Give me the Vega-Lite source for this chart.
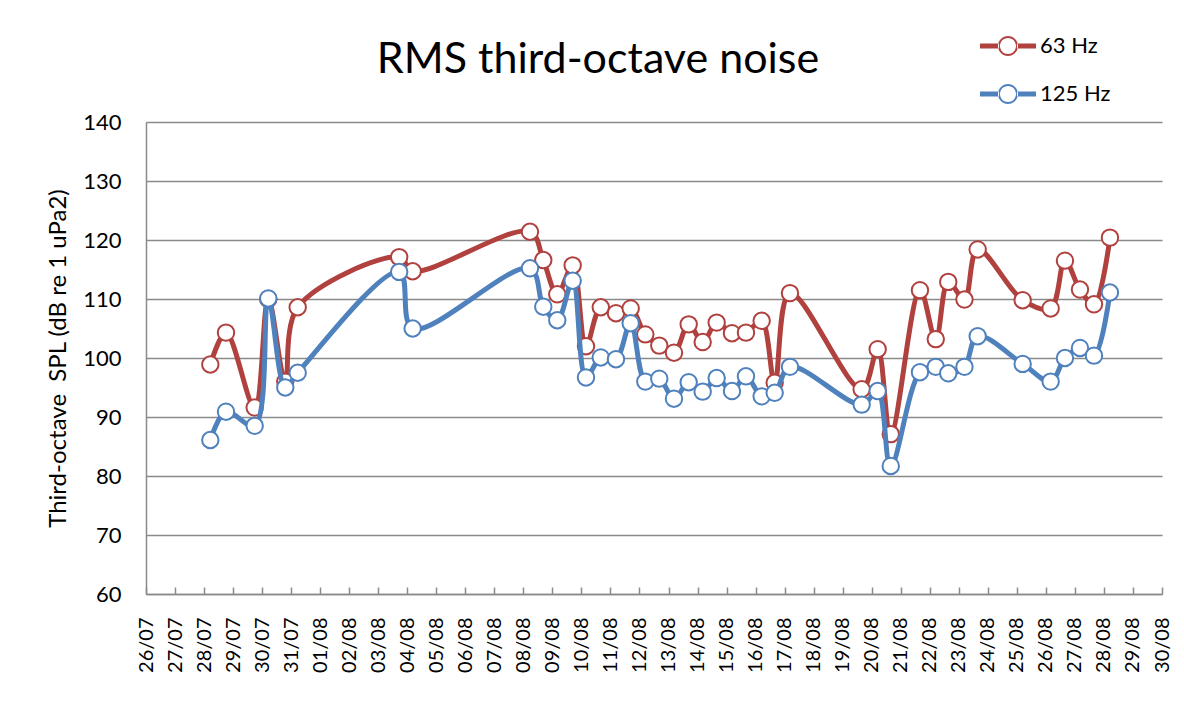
{
  "$schema": "https://vega.github.io/schema/vega-lite/v6.json",
  "autosize": {"type": "none"},
  "width": 1016,
  "height": 472,
  "padding": {"left": 146, "top": 122, "right": 22, "bottom": 108},
  "background": "white",
  "config": {
    "view": {"stroke": null},
    "font": "Lato"
  },
  "title": {
    "text": "RMS third-octave noise",
    "fontSize": 43,
    "fontWeight": "normal",
    "font": "Lato",
    "color": "black",
    "anchor": "middle",
    "frame": "group",
    "baseline": "alphabetic",
    "offset": -98,
    "dx": -56
  },
  "data": {
    "values": [
      {"t": "2013-07-28T05:10:00", "series": "63 Hz", "spl": 98.9},
      {"t": "2013-07-28T18:08:00", "series": "63 Hz", "spl": 104.3},
      {"t": "2013-07-29T17:51:00", "series": "63 Hz", "spl": 91.6},
      {"t": "2013-07-30T05:07:00", "series": "63 Hz", "spl": 110.0},
      {"t": "2013-07-30T19:09:00", "series": "63 Hz", "spl": 96.0},
      {"t": "2013-07-31T05:25:00", "series": "63 Hz", "spl": 108.6},
      {"t": "2013-08-03T17:20:00", "series": "63 Hz", "spl": 117.1},
      {"t": "2013-08-04T04:29:00", "series": "63 Hz", "spl": 114.7},
      {"t": "2013-08-08T05:28:00", "series": "63 Hz", "spl": 121.4},
      {"t": "2013-08-08T16:28:00", "series": "63 Hz", "spl": 116.6},
      {"t": "2013-08-09T04:02:00", "series": "63 Hz", "spl": 110.8},
      {"t": "2013-08-09T16:46:00", "series": "63 Hz", "spl": 115.7},
      {"t": "2013-08-10T03:46:00", "series": "63 Hz", "spl": 102.0},
      {"t": "2013-08-10T16:00:00", "series": "63 Hz", "spl": 108.6},
      {"t": "2013-08-11T04:34:00", "series": "63 Hz", "spl": 107.6},
      {"t": "2013-08-11T16:43:00", "series": "63 Hz", "spl": 108.4},
      {"t": "2013-08-12T04:48:00", "series": "63 Hz", "spl": 104.0},
      {"t": "2013-08-12T16:22:00", "series": "63 Hz", "spl": 102.1},
      {"t": "2013-08-13T04:31:00", "series": "63 Hz", "spl": 100.9},
      {"t": "2013-08-13T16:40:00", "series": "63 Hz", "spl": 105.7},
      {"t": "2013-08-14T04:15:00", "series": "63 Hz", "spl": 102.7},
      {"t": "2013-08-14T15:49:00", "series": "63 Hz", "spl": 106.0},
      {"t": "2013-08-15T04:28:00", "series": "63 Hz", "spl": 104.2},
      {"t": "2013-08-15T16:02:00", "series": "63 Hz", "spl": 104.3},
      {"t": "2013-08-16T05:01:00", "series": "63 Hz", "spl": 106.3},
      {"t": "2013-08-16T15:46:00", "series": "63 Hz", "spl": 95.8},
      {"t": "2013-08-17T04:25:00", "series": "63 Hz", "spl": 111.0},
      {"t": "2013-08-19T15:42:00", "series": "63 Hz", "spl": 94.7},
      {"t": "2013-08-20T04:55:00", "series": "63 Hz", "spl": 101.5},
      {"t": "2013-08-20T15:45:00", "series": "63 Hz", "spl": 87.1},
      {"t": "2013-08-21T15:53:00", "series": "63 Hz", "spl": 111.5},
      {"t": "2013-08-22T04:57:00", "series": "63 Hz", "spl": 103.2},
      {"t": "2013-08-22T15:17:00", "series": "63 Hz", "spl": 112.9},
      {"t": "2013-08-23T04:41:00", "series": "63 Hz", "spl": 109.9},
      {"t": "2013-08-23T15:36:00", "series": "63 Hz", "spl": 118.4},
      {"t": "2013-08-25T04:48:00", "series": "63 Hz", "spl": 109.8},
      {"t": "2013-08-26T03:56:00", "series": "63 Hz", "spl": 108.4},
      {"t": "2013-08-26T15:46:00", "series": "63 Hz", "spl": 116.5},
      {"t": "2013-08-27T04:11:00", "series": "63 Hz", "spl": 111.6},
      {"t": "2013-08-27T15:45:00", "series": "63 Hz", "spl": 109.1},
      {"t": "2013-08-28T04:58:00", "series": "63 Hz", "spl": 120.4},
      {"t": "2013-07-28T05:10:00", "series": "125 Hz", "spl": 86.1},
      {"t": "2013-07-28T18:08:00", "series": "125 Hz", "spl": 90.9},
      {"t": "2013-07-29T17:51:00", "series": "125 Hz", "spl": 88.5},
      {"t": "2013-07-30T05:07:00", "series": "125 Hz", "spl": 110.1},
      {"t": "2013-07-30T19:09:00", "series": "125 Hz", "spl": 95.0},
      {"t": "2013-07-31T05:25:00", "series": "125 Hz", "spl": 97.5},
      {"t": "2013-08-03T17:20:00", "series": "125 Hz", "spl": 114.6},
      {"t": "2013-08-04T04:29:00", "series": "125 Hz", "spl": 105.0},
      {"t": "2013-08-08T05:28:00", "series": "125 Hz", "spl": 115.2},
      {"t": "2013-08-08T16:28:00", "series": "125 Hz", "spl": 108.7},
      {"t": "2013-08-09T04:02:00", "series": "125 Hz", "spl": 106.4},
      {"t": "2013-08-09T16:46:00", "series": "125 Hz", "spl": 113.1},
      {"t": "2013-08-10T03:46:00", "series": "125 Hz", "spl": 96.7},
      {"t": "2013-08-10T16:00:00", "series": "125 Hz", "spl": 100.1},
      {"t": "2013-08-11T04:34:00", "series": "125 Hz", "spl": 99.8},
      {"t": "2013-08-11T16:43:00", "series": "125 Hz", "spl": 105.9},
      {"t": "2013-08-12T04:48:00", "series": "125 Hz", "spl": 96.0},
      {"t": "2013-08-12T16:22:00", "series": "125 Hz", "spl": 96.5},
      {"t": "2013-08-13T04:31:00", "series": "125 Hz", "spl": 93.1},
      {"t": "2013-08-13T16:40:00", "series": "125 Hz", "spl": 95.9},
      {"t": "2013-08-14T04:15:00", "series": "125 Hz", "spl": 94.3},
      {"t": "2013-08-14T15:49:00", "series": "125 Hz", "spl": 96.6},
      {"t": "2013-08-15T04:28:00", "series": "125 Hz", "spl": 94.4},
      {"t": "2013-08-15T16:02:00", "series": "125 Hz", "spl": 96.9},
      {"t": "2013-08-16T05:01:00", "series": "125 Hz", "spl": 93.5},
      {"t": "2013-08-16T15:46:00", "series": "125 Hz", "spl": 94.1},
      {"t": "2013-08-17T04:25:00", "series": "125 Hz", "spl": 98.5},
      {"t": "2013-08-19T15:42:00", "series": "125 Hz", "spl": 92.1},
      {"t": "2013-08-20T04:55:00", "series": "125 Hz", "spl": 94.4},
      {"t": "2013-08-20T15:45:00", "series": "125 Hz", "spl": 81.7},
      {"t": "2013-08-21T15:53:00", "series": "125 Hz", "spl": 97.6},
      {"t": "2013-08-22T04:57:00", "series": "125 Hz", "spl": 98.5},
      {"t": "2013-08-22T15:17:00", "series": "125 Hz", "spl": 97.4},
      {"t": "2013-08-23T04:41:00", "series": "125 Hz", "spl": 98.5},
      {"t": "2013-08-23T15:36:00", "series": "125 Hz", "spl": 103.7},
      {"t": "2013-08-25T04:48:00", "series": "125 Hz", "spl": 99.0},
      {"t": "2013-08-26T03:56:00", "series": "125 Hz", "spl": 96.0},
      {"t": "2013-08-26T15:46:00", "series": "125 Hz", "spl": 100.0},
      {"t": "2013-08-27T04:11:00", "series": "125 Hz", "spl": 101.7},
      {"t": "2013-08-27T15:45:00", "series": "125 Hz", "spl": 100.4},
      {"t": "2013-08-28T04:58:00", "series": "125 Hz", "spl": 111.1}
    ]
  },
  "encoding": {
    "x": {
      "field": "t",
      "type": "temporal",
      "scale": {
        "domain": [
          {"year": 2013, "month": 7, "date": 26},
          {"year": 2013, "month": 8, "date": 30}
        ],
        "nice": false
      },
      "axis": {
        "title": null,
        "format": "%d/%m",
        "tickCount": {"interval": "day", "step": 1},
        "labelAngle": -90,
        "labelFont": "Lato",
        "labelFontSize": 20,
        "labelColor": "black",
        "labelPadding": 30,
        "labelOverlap": false,
        "labelFlush": false,
        "grid": false,
        "domainColor": "#8a8a8a",
        "domainWidth": 1.5,
        "tickColor": "#8a8a8a",
        "tickWidth": 1.5,
        "tickSize": -7
      }
    },
    "y": {
      "field": "spl",
      "type": "quantitative",
      "scale": {"domain": [60, 140], "nice": false, "zero": false},
      "axis": {
        "title": "Third-octave\u00a0 SPL (dB re 1 uPa2)",
        "titleFont": "Lato",
        "titleFontSize": 24,
        "titleFontWeight": "normal",
        "titleColor": "black",
        "titlePadding": 12,
        "values": [60, 70, 80, 90, 100, 110, 120, 130, 140],
        "labelFont": "Lato",
        "labelFontSize": 22,
        "labelColor": "black",
        "labelPadding": 25,
        "ticks": false,
        "grid": true,
        "gridColor": "#8a8a8a",
        "gridWidth": 1.5,
        "domainColor": "#8a8a8a",
        "domainWidth": 1.5
      }
    },
    "color": {
      "field": "series",
      "type": "nominal",
      "scale": {"domain": ["63 Hz", "125 Hz"], "range": ["#B0413E", "#4F81BD"]},
      "legend": {
        "title": null,
        "orient": "none",
        "legendX": 834,
        "legendY": -104,
        "symbolType": "M-1,-0.09H-0.32V0.09H-1Z M0.32,-0.09H1V0.09H0.32Z M0.357,0A0.357,0.357 0 1,0 -0.357,0A0.357,0.357 0 1,0 0.357,0Z M0.286,0A0.286,0.286 0 1,1 -0.286,0A0.286,0.286 0 1,1 0.286,0Z",
        "symbolSize": 3136,
        "symbolStrokeWidth": 0,
        "labelFont": "Lato",
        "labelFontSize": 22,
        "labelColor": "black",
        "labelOffset": 4,
        "rowPadding": 9,
        "encode": {
          "symbols": {
            "update": {
              "fill": {"scale": "color", "field": "value"},
              "stroke": {"value": "transparent"},
              "opacity": {"value": 1}
            }
          }
        }
      }
    }
  },
  "layer": [
    {
      "transform": [{"filter": "datum.series === '63 Hz'"}],
      "mark": {
        "type": "line",
        "interpolate": "catmull-rom",
        "strokeWidth": 5,
        "strokeCap": "round",
        "strokeJoin": "round",
        "point": {"filled": false, "fill": "white", "size": 270, "strokeWidth": 2, "opacity": 1}
      }
    },
    {
      "transform": [{"filter": "datum.series === '125 Hz'"}],
      "mark": {
        "type": "line",
        "interpolate": "catmull-rom",
        "strokeWidth": 5,
        "strokeCap": "round",
        "strokeJoin": "round",
        "point": {"filled": false, "fill": "white", "size": 270, "strokeWidth": 2, "opacity": 1}
      }
    }
  ]
}
